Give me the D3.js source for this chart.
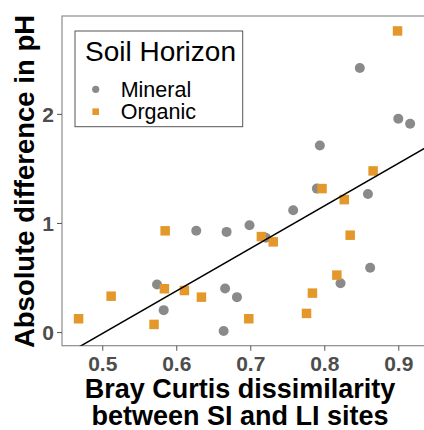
<!DOCTYPE html>
<html>
<head>
<meta charset="utf-8">
<script src="https://cdn.jsdelivr.net/npm/d3@7"></script>
<style>
  body { margin: 0; background: #fff; }
  svg { display: block; font-family: "Liberation Sans", Arial, sans-serif; }
</style>
</head>
<body>
<svg id="chart" width="424" height="430"></svg>
<script>
// Bray Curtis dissimilarity (x) vs absolute pH difference (y)
const mineralX = [0.848, 0.900, 0.916, 0.794, 0.790, 0.859, 0.668, 0.699, 0.758, 0.721,
  0.862, 0.822, 0.666, 0.682, 0.664, 0.627, 0.574, 0.583];
const mineralY = [2.42, 1.955, 1.91, 1.71, 1.315, 1.266, 0.918, 0.979, 1.116, 0.864,
  0.589, 0.448, 0.40, 0.32, 0.009, 0.928, 0.436, 0.201];

const organicX = [0.899, 0.797, 0.866, 0.827, 0.715, 0.731, 0.835, 0.817, 0.784, 0.776,
  0.698, 0.585, 0.584, 0.611, 0.634, 0.512, 0.468, 0.570];
const organicY = [2.76, 1.315, 1.477, 1.214, 0.875, 0.827, 0.888, 0.522, 0.357, 0.171,
  0.122, 0.928, 0.397, 0.381, 0.32, 0.329, 0.122, 0.070];

// linear fit
const fitSlope = 3.90;
const fitIntercept = -1.964;

const xTicks = [0.5, 0.6, 0.7, 0.8, 0.9];
const yTicks = [0, 1, 2];
const legendTitle = "Soil Horizon";
const groups = ["Mineral", "Organic"];
const colors = { Mineral: "#8a8a8a", Organic: "#E4982B" };

const svg = d3.select("#chart");
const pLeft = 62, pTop = 16, pRight = 426.7, pBottom = 345.7;

const x = d3.scaleLinear().domain([0.4456, 0.9384]).range([pLeft, pRight]);
const y = d3.scaleLinear().domain([-0.125, 2.897]).range([pBottom, pTop]);

svg.append("defs").append("clipPath").attr("id", "panel")
  .append("rect")
  .attr("x", pLeft).attr("y", pTop)
  .attr("width", pRight - pLeft).attr("height", pBottom - pTop);

// panel border
svg.append("rect")
  .attr("x", pLeft).attr("y", pTop)
  .attr("width", pRight - pLeft).attr("height", pBottom - pTop)
  .attr("fill", "none")
  .attr("stroke", "#8c8c8c")
  .attr("stroke-width", 1.2);

// axes
const xAxis = svg.append("g")
  .attr("transform", `translate(0,${pBottom})`)
  .call(d3.axisBottom(x).tickValues(xTicks).tickFormat(d3.format(".1f")).tickSize(5).tickPadding(5));
const yAxis = svg.append("g")
  .attr("transform", `translate(${pLeft},0)`)
  .call(d3.axisLeft(y).tickValues(yTicks).tickFormat(d3.format("d")).tickSize(5).tickPadding(3));

[xAxis, yAxis].forEach((g) => {
  g.select(".domain").remove();
  g.selectAll(".tick line").attr("stroke", "#555");
  g.selectAll(".tick text")
    .attr("fill", "#4d4d4d")
    .attr("font-size", 21)
    .attr("font-weight", "bold")
    .attr("font-family", "Liberation Sans, Arial, sans-serif");
});
yAxis.selectAll(".tick text").attr("dy", "0.36em");

const plot = svg.append("g").attr("clip-path", "url(#panel)");

// minerals below, organics on top
plot.append("g").selectAll("circle")
  .data(d3.zip(mineralX, mineralY))
  .join("circle")
  .attr("cx", (d) => x(d[0]))
  .attr("cy", (d) => y(d[1]))
  .attr("r", 5)
  .attr("fill", colors.Mineral);

const sq = 9.5;
plot.append("g").selectAll("rect")
  .data(d3.zip(organicX, organicY))
  .join("rect")
  .attr("x", (d) => x(d[0]) - sq / 2)
  .attr("y", (d) => y(d[1]) - sq / 2)
  .attr("width", sq)
  .attr("height", sq)
  .attr("fill", colors.Organic);

// regression line over the full panel
const xd = x.domain();
plot.append("line")
  .attr("x1", x(xd[0]))
  .attr("y1", y(fitIntercept + fitSlope * xd[0]))
  .attr("x2", x(xd[1]))
  .attr("y2", y(fitIntercept + fitSlope * xd[1]))
  .attr("stroke", "#000")
  .attr("stroke-width", 1.5);

// axis titles
svg.append("text")
  .attr("transform", "translate(34,181.5) rotate(-90)")
  .attr("text-anchor", "middle")
  .attr("font-size", 27.5)
  .attr("font-weight", "bold")
  .attr("fill", "#000")
  .text("Absolute difference in pH");

const xt = svg.append("text")
  .attr("text-anchor", "middle")
  .attr("font-size", 27)
  .attr("font-weight", "bold")
  .attr("fill", "#000");
xt.append("tspan").attr("x", 240).attr("y", 398).text("Bray Curtis dissimilarity");
xt.append("tspan").attr("x", 240).attr("y", 425).text("between SI and LI sites");

// legend
const lg = svg.append("g");
lg.append("rect")
  .attr("x", 75).attr("y", 31)
  .attr("width", 167.7).attr("height", 95.7)
  .attr("fill", "#fff")
  .attr("stroke", "#555")
  .attr("stroke-width", 1);
lg.append("text")
  .attr("x", 85).attr("y", 61)
  .attr("font-size", 28)
  .attr("fill", "#000")
  .text(legendTitle);

const items = lg.selectAll(".item")
  .data(groups)
  .join("g")
  .attr("class", "item")
  .attr("transform", (d, i) => `translate(0,${89.3 + i * 22.4})`);
items.filter((d) => d === "Mineral").append("circle")
  .attr("cx", 95.7).attr("cy", 0).attr("r", 3.6)
  .attr("fill", colors.Mineral);
items.filter((d) => d === "Organic").append("rect")
  .attr("x", 95.7 - 3.3).attr("y", -3.3)
  .attr("width", 6.6).attr("height", 6.6)
  .attr("fill", colors.Organic);
items.append("text")
  .attr("x", 120.7).attr("y", 7.5)
  .attr("font-size", 21.5)
  .attr("fill", "#000")
  .text((d) => d);
</script>
</body>
</html>
